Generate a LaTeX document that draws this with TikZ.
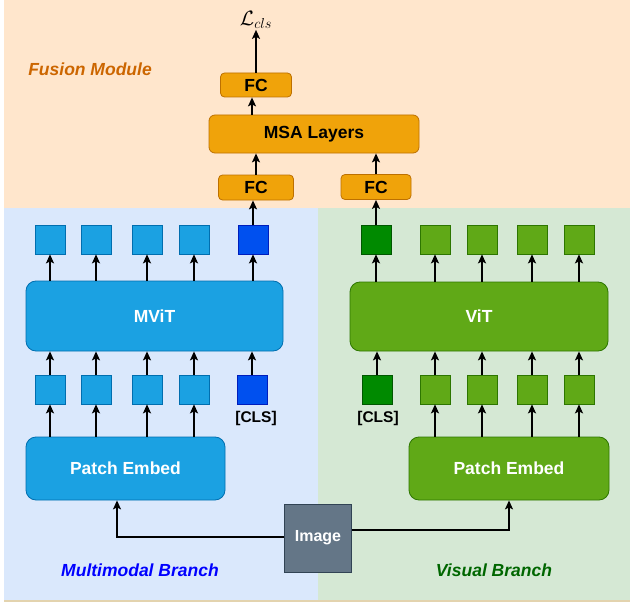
\documentclass[tikz,border=0pt]{standalone}
\usepackage{fontspec}
\setmainfont{Liberation Sans}
\usetikzlibrary{arrows.meta}
\definecolor{peachbg}{HTML}{FFE6CC}
\definecolor{bluebg}{HTML}{DAE8FC}
\definecolor{greenbg}{HTML}{D5E8D4}
\definecolor{tanline}{HTML}{E3D3AE}
\definecolor{orangefill}{HTML}{F0A30A}
\definecolor{orangedraw}{HTML}{BD7000}
\definecolor{bluefill}{HTML}{1BA1E2}
\definecolor{bluedraw}{HTML}{006EAF}
\definecolor{dbluefill}{HTML}{0050EF}
\definecolor{dbluedraw}{HTML}{001DBC}
\definecolor{greenfill}{HTML}{60A917}
\definecolor{greendraw}{HTML}{2D7600}
\definecolor{dgreenfill}{HTML}{008A00}
\definecolor{dgreendraw}{HTML}{005700}
\definecolor{slatefill}{HTML}{647687}
\definecolor{slatedraw}{HTML}{314354}
\definecolor{fusiontext}{HTML}{CC6600}
\definecolor{visualtext}{HTML}{006600}
\tikzset{
  lbl/.style={font=\fontsize{17.5}{17.5}\selectfont\bfseries},
  fcbox/.style={lbl,draw=orangedraw,fill=orangefill,line width=0.8pt,rounded corners=4pt,inner sep=0pt},
  tok/.style 2 args={draw=#2,fill=#1,line width=0.7pt,minimum width=30pt,minimum height=29pt,inner sep=0pt},
  bigbox/.style 2 args={lbl,text=white,draw=#2,fill=#1,line width=0.8pt,rounded corners=10pt,inner sep=0pt},
  branch/.style={font=\fontsize{17.5}{17.5}\selectfont\bfseries\itshape},
  conn/.style={->,line width=1.5pt}
}
\begin{document}
\begin{tikzpicture}[x=1pt,y=-1pt,>={Stealth[length=9pt,width=8pt,inset=2pt]}]
   \useasboundingbox (0,0) rectangle (630,602);
   %background
   \fill[peachbg] (4,0) rectangle (630,208);
   \fill[bluebg] (4,208) rectangle (318,600);
   \fill[greenbg] (318,208) rectangle (630,600);
   \draw[tanline,line width=1.5pt] (4,601) -- (630,601);
   %fusion
   \node[branch,text=fusiontext] (fusion) at (90,69) {Fusion Module};
   \node[inner sep=1pt] (loss) at (256,20) {\fontsize{22}{22}\selectfont$\mathcal{L}_{cls}$};
   \node[fcbox,minimum width=71pt,minimum height=24pt] (fctop) at (256,85) {FC};
   \node[fcbox,rounded corners=6pt,minimum width=210pt,minimum height=38pt] (msa) at (314,134) {MSA Layers};
   \node[fcbox,minimum width=75pt,minimum height=25pt] (fcm) at (256,187.5) {FC};
   \node[fcbox,minimum width=70pt,minimum height=25pt] (fcv) at (376,187) {FC};
   \draw[conn] (fctop.north) -- (loss.south);
   \draw[conn] (msa.north -| 252,0) -- (fctop.south -| 252,0);
   \draw[conn] (fcm.north) -- (msa.south -| fcm.north);
   \draw[conn] (fcv.north) -- (msa.south -| fcv.north);
   %multimodal branch
   \node[bigbox={bluefill}{bluedraw},minimum width=257pt,minimum height=70pt] (mvit) at (154.5,316) {MViT};
   \node[bigbox={bluefill}{bluedraw},minimum width=199pt,minimum height=63pt] (pem) at (125.5,468.5) {Patch Embed};
   \foreach \i/\x in {1/50,2/96,3/147,4/194} {
      \node[tok={bluefill}{bluedraw}] (mtop\i) at (\x,239.5) {};
      \node[tok={bluefill}{bluedraw}] (mbot\i) at (\x,389.5) {};
      \draw[conn] (mvit.north -| mtop\i) -- (mtop\i.south);
      \draw[conn] (mbot\i.north) -- (mvit.south -| mbot\i);
      \draw[conn] (pem.north -| mbot\i) -- (mbot\i.south);
   }
   \node[tok={dbluefill}{dbluedraw}] (mtopc) at (253,239.5) {};
   \node[tok={dbluefill}{dbluedraw}] (mbotc) at (252,389.5) {};
   \node[lbl,font=\fontsize{15.5}{15.5}\selectfont\bfseries] (mcls) at (256,418) {[CLS]};
   \draw[conn] (mvit.north -| mtopc) -- (mtopc.south);
   \draw[conn] (mbotc.north) -- (mvit.south -| mbotc);
   \draw[conn] (mtopc.north) -- (fcm.south -| mtopc);
   \node[branch,text=blue] (mmlab) at (140,570) {Multimodal Branch};
   %visual branch
   \node[bigbox={greenfill}{greendraw},minimum width=258pt,minimum height=69pt] (vit) at (479,316.5) {ViT};
   \node[bigbox={greenfill}{greendraw},minimum width=200pt,minimum height=63pt] (pev) at (509,468.5) {Patch Embed};
   \foreach \i/\x in {1/435,2/482,3/532,4/579} {
      \node[tok={greenfill}{greendraw}] (vtop\i) at (\x,239.5) {};
      \node[tok={greenfill}{greendraw}] (vbot\i) at (\x,389.5) {};
      \draw[conn] (vit.north -| vtop\i) -- (vtop\i.south);
      \draw[conn] (vbot\i.north) -- (vit.south -| vbot\i);
      \draw[conn] (pev.north -| vbot\i) -- (vbot\i.south);
   }
   \node[tok={dgreenfill}{dgreendraw}] (vtopc) at (376,239.5) {};
   \node[tok={dgreenfill}{dgreendraw}] (vbotc) at (377,389.5) {};
   \node[lbl,font=\fontsize{15.5}{15.5}\selectfont\bfseries] (vcls) at (378,418) {[CLS]};
   \draw[conn] (vit.north -| vtopc) -- (vtopc.south);
   \draw[conn] (vbotc.north) -- (vit.south -| vbotc);
   \draw[conn] (vtopc.north) -- (fcv.south -| vtopc);
   \node[branch,text=visualtext] (vislab) at (494,570) {Visual Branch};
   %image
   \node[lbl,font=\fontsize{16}{16}\selectfont\bfseries,text=white,draw=slatedraw,fill=slatefill,line width=0.8pt,minimum width=67pt,minimum height=68pt,inner sep=0pt] (img) at (318,538) {Image};
   \draw[conn] ([yshift=1pt]img.west) -| ([xshift=-8.5pt]pem.south);
   \draw[conn] ([yshift=8pt]img.east) -| (pev.south);
\end{tikzpicture}
\end{document}
